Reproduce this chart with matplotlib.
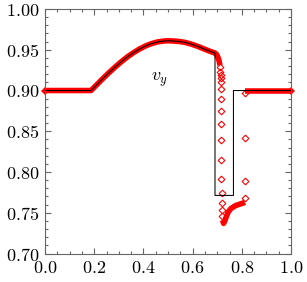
import numpy as np
import matplotlib
matplotlib.use("Agg")
import matplotlib.pyplot as plt
from matplotlib.ticker import MultipleLocator, FormatStrFormatter

plt.rcParams['mathtext.fontset'] = 'cm'
plt.rcParams['font.family'] = 'serif'
plt.rcParams['font.serif'] = ['cmr10', 'DejaVu Serif']

# exact solution
ex_x = [0.0, 0.187, 0.21, 0.235, 0.26, 0.285, 0.31, 0.335, 0.36, 0.385, 0.41, 0.435, 0.46,
        0.485, 0.5, 0.52, 0.545, 0.57, 0.595, 0.62, 0.645, 0.67, 0.691,
        0.691, 0.766, 0.766, 1.0]
ex_y = [0.9, 0.9, 0.9070, 0.9146, 0.9219, 0.9288, 0.9353, 0.9413, 0.9465, 0.9511, 0.9549,
        0.9578, 0.9598, 0.9608, 0.961, 0.9608, 0.9602, 0.9590, 0.9569, 0.9543, 0.9512, 0.9482,
        0.946, 0.7713, 0.7713, 0.9, 0.9]

# numerical solution, dense parts (points overlap into a band)
band_left_x = [0.0, 0.187, 0.21, 0.235, 0.26, 0.285, 0.31, 0.335, 0.36, 0.385, 0.41, 0.435,
               0.46, 0.485, 0.5, 0.52, 0.545, 0.57, 0.595, 0.62, 0.645, 0.67, 0.691,
               0.698, 0.704, 0.708, 0.711]
band_left_y = [0.9, 0.9, 0.9070, 0.9146, 0.9219, 0.9288, 0.9353, 0.9413, 0.9465, 0.9511,
               0.9549, 0.9578, 0.9598, 0.9608, 0.961, 0.9608, 0.9602, 0.9590, 0.9569, 0.9543,
               0.9512, 0.9482, 0.946, 0.944, 0.940, 0.936, 0.931]
band_low_x = [0.722, 0.726, 0.731, 0.738, 0.745, 0.755, 0.765, 0.776, 0.786, 0.796, 0.806, 0.812]
band_low_y = [0.741, 0.737, 0.740, 0.746, 0.751, 0.755, 0.757, 0.759, 0.760, 0.761, 0.762, 0.763]
band_right_x = [0.813, 1.0]
band_right_y = [0.9, 0.9]

# numerical solution, separate points across the jumps
col_x = [0.711, 0.713, 0.714, 0.715, 0.715, 0.716, 0.716, 0.716, 0.716, 0.716,
         0.716, 0.716, 0.718, 0.719, 0.720, 0.721]
col_y = [0.9291, 0.9229, 0.9189, 0.9148, 0.9106, 0.9016, 0.8890, 0.8750, 0.8595, 0.8389,
         0.8152, 0.7918, 0.7746, 0.7619, 0.7529, 0.7455]
right_x = [0.814, 0.814, 0.814, 0.814]
right_y = [0.8964, 0.8423, 0.7885, 0.7686]

red = '#ff0000'
fig = plt.figure(figsize=(3.07, 2.82), dpi=100)
ax = fig.add_axes([0.1466, 0.1010, 0.8013, 0.8670])

for bx, by in [(band_left_x, band_left_y), (band_low_x, band_low_y), (band_right_x, band_right_y)]:
    ax.plot(bx, by, color=red, lw=4.0, solid_capstyle='butt', solid_joinstyle='round', zorder=2)
ax.plot([band_left_x[0], band_right_x[-1]], [band_left_y[0], band_right_y[-1]], 'D', color=red,
        ms=4.0, mew=0.0, ls='none', clip_on=False, zorder=2)
ax.plot(col_x + right_x, col_y + right_y, 'D', mfc='none', mec=red, ms=3.4, mew=0.8,
        ls='none', zorder=3)

ax.plot(ex_x, ex_y, color='black', lw=0.75, zorder=4)

ax.text(0.467, 0.9127, r'$v_y$', fontsize=13, ha='center', va='center')

ax.set_xlim(0, 1)
ax.set_ylim(0.7, 1.0)
ax.xaxis.set_major_locator(MultipleLocator(0.2))
ax.xaxis.set_minor_locator(MultipleLocator(0.05))
ax.yaxis.set_major_locator(MultipleLocator(0.05))
ax.yaxis.set_minor_locator(MultipleLocator(0.01))
ax.xaxis.set_major_formatter(FormatStrFormatter('$%.1f$'))
ax.yaxis.set_major_formatter(FormatStrFormatter('$%.2f$'))
ax.tick_params(which='both', direction='in', top=True, right=True, color='0.4',
               labelsize=13)
ax.tick_params(axis='x', pad=5)
ax.tick_params(axis='y', pad=4)
ax.tick_params(which='major', length=4.0, width=0.8)
ax.tick_params(which='minor', length=2.0, width=0.8)
for s in ax.spines.values():
    s.set_color('0.4')
    s.set_linewidth(0.8)

fig.savefig('out.png', dpi=100)
